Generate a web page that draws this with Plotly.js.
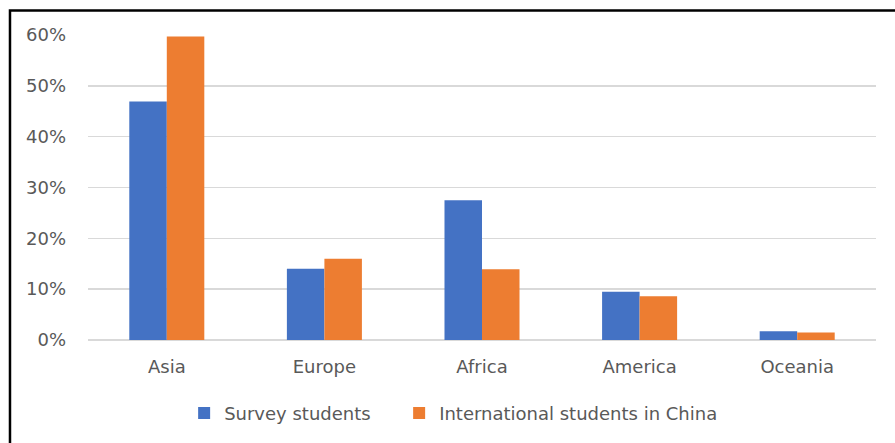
<!DOCTYPE html>
<html>
<head>
<meta charset="utf-8">
<script src="https://cdn.plot.ly/plotly-3.0.1.min.js"></script>
<style>
  html, body { margin: 0; padding: 0; background: #ffffff; }
  #chart { width: 895px; height: 443px; }
</style>
</head>
<body>
<div id="chart"></div>
<script>
// Share of students by region of origin
const regions = ['Asia', 'Europe', 'Africa', 'America', 'Oceania'];
const surveyStudents = [0.469, 0.140, 0.275, 0.095, 0.017];
const intlStudentsChina = [0.597, 0.160, 0.139, 0.086, 0.015];
const seriesNames = ['Survey students', 'International students in China'];

const textColor = '#595959';
const fontFamily = 'DejaVu Sans, sans-serif';

const traces = [
  {
    type: 'bar',
    name: seriesNames[0],
    x: regions,
    y: surveyStudents,
    marker: { color: '#4472C4', line: { width: 0 } },
    legendwidth: 170,
    hoverinfo: 'skip'
  },
  {
    type: 'bar',
    name: seriesNames[1],
    x: regions,
    y: intlStudentsChina,
    marker: { color: '#ED7D31', line: { width: 0 } },
    legendwidth: 300,
    hoverinfo: 'skip'
  }
];

const layout = {
  width: 895,
  height: 443,
  margin: { l: 88, r: 19, t: 34.7, b: 102.3 },
  paper_bgcolor: '#ffffff',
  plot_bgcolor: '#ffffff',
  font: { family: fontFamily, size: 18, color: textColor },
  barmode: 'group',
  bargap: 0.524,
  bargroupgap: 0,
  showlegend: true,
  legend: {
    orientation: 'h',
    x: 0.122,
    xanchor: 'left',
    y: -0.236,
    yanchor: 'middle',
    font: { family: fontFamily, size: 18, color: textColor },
    bgcolor: 'rgba(0,0,0,0)'
  },
  xaxis: {
    type: 'category',
    showgrid: false,
    zeroline: false,
    showline: false,
    ticks: '',
    ticklabelstandoff: 14,
    tickfont: { family: fontFamily, size: 18, color: textColor }
  },
  yaxis: {
    range: [0, 0.6],
    dtick: 0.1,
    tick0: 0,
    tickformat: '.0%',
    showgrid: true,
    gridcolor: '#d9d9d9',
    gridwidth: 1.5,
    zeroline: true,
    zerolinecolor: '#d9d9d9',
    zerolinewidth: 1.5,
    showline: false,
    ticks: '',
    ticklabelstandoff: 21,
    tickfont: { family: fontFamily, size: 18, color: textColor }
  },
  shapes: [
    {
      type: 'rect',
      xref: 'paper',
      yref: 'paper',
      x0: -0.099,
      x1: 1.2,
      y0: -0.6,
      y1: 1.0807,
      line: { color: '#000000', width: 2.5 },
      fillcolor: 'rgba(0,0,0,0)',
      layer: 'above'
    }
  ]
};

Plotly.newPlot('chart', traces, layout, { displayModeBar: false, staticPlot: true });
</script>
</body>
</html>
